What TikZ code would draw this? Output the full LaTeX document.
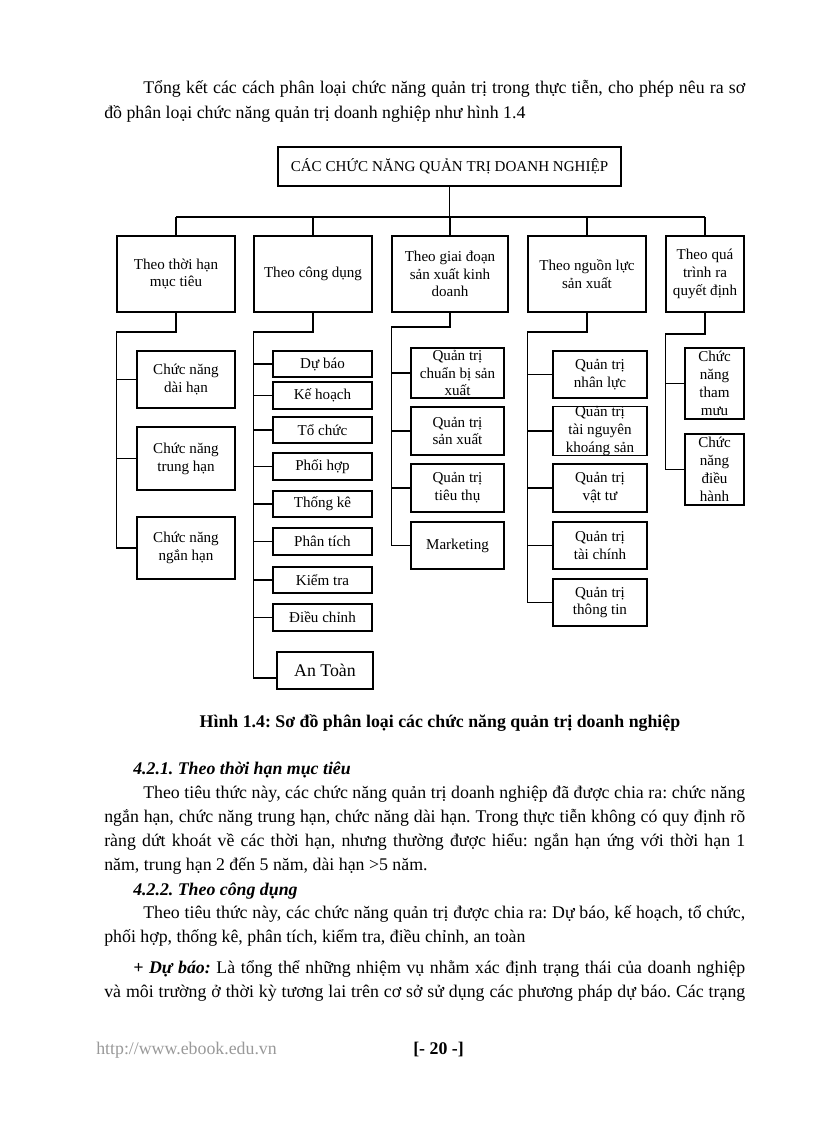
\documentclass[tikz,border=0pt]{standalone}
\usepackage{fontspec}
\setmainfont{Liberation Serif}
\frenchspacing
\newlength\pxu
\setlength\pxu{0.7295pt}
\newcommand\bodyfont{\fontsize{13}{17}\selectfont}
\newcommand\boxfont{\fontsize{11}{13}\selectfont}
\begin{document}
\begin{tikzpicture}[x=0.7295pt,y=-0.7295pt,
  box/.style={draw=black, line width=0.9pt, inner sep=0pt, align=center, font=\boxfont},
  conn/.style={draw=black, line width=0.9pt},
  txt/.style={anchor=base west, inner sep=0pt, font=\bodyfont}]
\useasboundingbox (0,0) rectangle (816,1123);
\newcommand\mkbox[7][]{\node[box,#1,minimum width={(#4-#3)*0.7295pt},minimum height={(#6-#5)*0.7295pt}] (#2) at ({(#3+#4)/2},{(#5+#6)/2}) {#7};}
\newcommand\jline[4]{\node[txt] at (#1,#2) {\hbox to #3\pxu{#4}};}

% ---------- body text above ----------
\jline{143}{93}{602}{Tổng kết các cách phân loại chức năng quản trị trong thực tiễn, cho phép nêu ra sơ}
\node[txt] at (104,118) {đồ phân loại chức năng quản trị doanh nghiệp như hình 1.4};

% ---------- diagram boxes ----------
\mkbox{top}{278}{621}{147}{186}{CÁC CHỨC NĂNG QUẢN TRỊ DOANH NGHIỆP}
\mkbox{cat1}{117}{235}{236}{312}{Theo thời hạn\\mục tiêu}
\mkbox{cat2}{254}{372}{236}{312}{Theo công dụng}
\mkbox{cat3}{392}{508}{236}{312}{Theo giai đoạn\\sản xuất kinh\\doanh}
\mkbox{cat4}{528}{646}{236}{312}{Theo nguồn lực\\sản xuất}
\mkbox{cat5}{666}{744}{236}{312}{Theo quá\\trình ra\\quyết định}

\mkbox{dai}{137}{235}{351}{408}{Chức năng\\dài hạn}
\mkbox{trung}{137}{235}{427}{490}{Chức năng\\trung hạn}
\mkbox{ngan}{137}{235}{517}{579}{Chức năng\\ngắn hạn}

\mkbox{dubao}{273}{372}{351}{377}{Dự báo}
\mkbox{kehoach}{273}{372}{382}{409}{Kế hoạch}
\mkbox{tochuc}{273}{372}{417}{443}{Tổ chức}
\mkbox{phoihop}{273}{372}{453}{480}{Phối hợp}
\mkbox{thongke}{273}{372}{491}{517}{Thống kê}
\mkbox{phantich}{273}{372}{528}{555}{Phân tích}
\mkbox{kiemtra}{273}{372}{567}{593}{Kiểm tra}
\mkbox{dieuchinh}{273}{372}{604}{631}{Điều chỉnh}
\mkbox[line width=1.5pt,font=\bodyfont]{antoan}{277}{373}{652}{689}{An Toàn}

\mkbox{chuanbi}{411}{504}{348}{398}{Quản trị\\chuẩn bị sản\\xuất}
\mkbox{sanxuat}{411}{504}{407}{455}{Quản trị\\sản xuất}
\mkbox{tieuthu}{411}{504}{464}{512}{Quản trị\\tiêu thụ}
\mkbox{marketing}{411}{504}{522}{569}{Marketing}

\mkbox{nhanluc}{553}{647}{351}{398}{Quản trị\\nhân lực}
\mkbox{tainguyen}{553}{647}{407}{455}{Quản trị\\tài nguyên\\khoáng sản}
\mkbox{vattu}{553}{647}{464}{512}{Quản trị\\vật tư}
\mkbox{taichinh}{553}{647}{522}{569}{Quản trị\\tài chính}
\mkbox{thongtin}{553}{647}{579}{626}{Quản trị\\thông tin}

\mkbox{thammuu}{685}{744}{348}{419}{Chức\\năng\\tham\\mưu}
\mkbox{dieuhanh}{685}{744}{434}{505}{Chức\\năng\\điều\\hành}

% ---------- connectors ----------
\coordinate (bus) at (0,217);
\draw[conn] (top.south) -- (top.south |- bus);
\draw[conn] (cat1.north |- bus) -- (cat5.north |- bus);
\foreach \c in {cat1,cat2,cat3,cat4,cat5} \draw[conn] (\c.north) -- (\c.north |- bus);

% column 1
\coordinate (k1) at (cat1.south west |- 0,332);
\draw[conn] (cat1.south) |- (k1) -- (k1 |- ngan.west);
\foreach \b in {dai,trung,ngan} \draw[conn] (k1 |- \b.west) -- (\b.west);

% column 2
\coordinate (k2) at (cat2.south west |- 0,332);
\coordinate (at2) at ([yshift=-5.5pt]antoan.west);
\draw[conn] (cat2.south) |- (k2) -- (k2 |- at2);
\foreach \b in {dubao,kehoach,tochuc,phoihop,thongke,phantich,kiemtra,dieuchinh} \draw[conn] (k2 |- \b.west) -- (\b.west);
\draw[conn] (k2 |- at2) -- (at2);

% column 3
\coordinate (k3) at (cat3.south west |- 0,327);
\draw[conn] (cat3.south) |- (k3) -- (k3 |- marketing.west);
\foreach \b in {chuanbi,sanxuat,tieuthu,marketing} \draw[conn] (k3 |- \b.west) -- (\b.west);

% column 4
\coordinate (k4) at (cat4.south west |- 0,332);
\draw[conn] (cat4.south) |- (k4) -- (k4 |- thongtin.west);
\foreach \b in {nhanluc,tainguyen,vattu,taichinh,thongtin} \draw[conn] (k4 |- \b.west) -- (\b.west);

% column 5
\coordinate (k5) at (cat5.south west |- 0,334);
\draw[conn] (cat5.south) |- (k5) -- (k5 |- dieuhanh.west);
\foreach \b in {thammuu,dieuhanh} \draw[conn] (k5 |- \b.west) -- (\b.west);

% ---------- caption and text below ----------
\node[anchor=base, inner sep=0pt, font=\bodyfont] at (440,727) {\textbf{Hình 1.4: Sơ đồ phân loại các chức năng quản trị doanh nghiệp}};

\node[txt] at (133,774) {\textbf{\textit{4.2.1. Theo thời hạn mục tiêu}}};
\jline{143}{798}{602}{Theo tiêu thức này, các chức năng quản trị doanh nghiệp đã được chia ra: chức năng}
\jline{104}{822}{641}{ngắn hạn, chức năng trung hạn, chức năng dài hạn. Trong thực tiễn không có quy định rõ}
\jline{104}{846}{641}{ràng dứt khoát về các thời hạn, nhưng thường được hiểu: ngắn hạn ứng với thời hạn 1}
\node[txt] at (104,870) {năm, trung hạn 2 đến 5 năm, dài hạn >5 năm.};

\node[txt] at (133,895) {\textbf{\textit{4.2.2. Theo công dụng}}};
\jline{143}{918}{602}{Theo tiêu thức này, các chức năng quản trị được chia ra: Dự báo, kế hoạch, tổ chức,}
\node[txt] at (104,942) {phối hợp, thống kê, phân tích, kiểm tra, điều chỉnh, an toàn};

\jline{133}{973}{612}{\textbf{\textit{+ Dự báo:}} Là tổng thể những nhiệm vụ nhằm xác định trạng thái của doanh nghiệp}
\jline{104}{997}{641}{và môi trường ở thời kỳ tương lai trên cơ sở sử dụng các phương pháp dự báo. Các trạng}

% ---------- footer ----------
\node[txt, text=black!40] at (96,1054) {http://www.ebook.edu.vn};
\node[txt] at (413,1054) {\textbf{[- 20 -]}};
\end{tikzpicture}
\end{document}
